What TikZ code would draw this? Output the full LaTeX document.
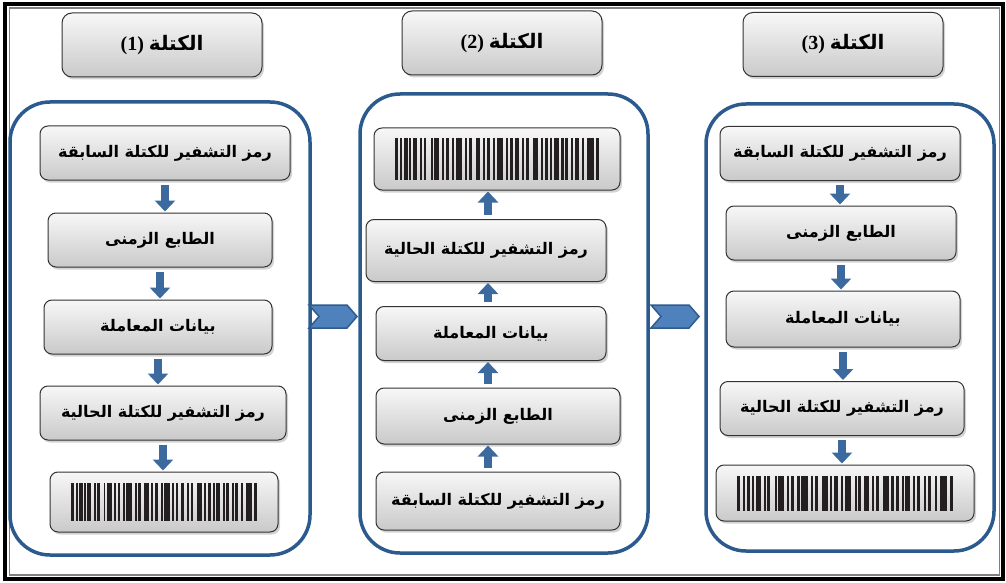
\documentclass[tikz,border=0pt]{standalone}
\usepackage{fontspec}
\setmainfont{Liberation Serif}
\newfontfamily\arabicfont[Script=Arabic]{DejaVu Sans}
\TeXXeTstate=1
\usetikzlibrary{arrows.meta,shadows}

\definecolor{frameblue}{HTML}{2B5A8E}
\definecolor{arrowblue}{HTML}{3C6A9E}
\definecolor{chevfill}{HTML}{4F81BD}
\definecolor{chevline}{HTML}{2E5A8C}
\definecolor{barcol}{HTML}{231F20}

\tikzset{
  blockframe/.style={draw=frameblue, line width=3.5pt, rounded corners=40pt, inner sep=0pt},
  grayshade/.style={draw=black!80, line width=1pt, top color=gray!6, bottom color=gray!42,
    drop shadow={shadow xshift=2pt, shadow yshift=-2.5pt, opacity=0.35}},
  headbox/.style={grayshade, rounded corners=10pt, minimum width=200pt, minimum height=64pt,
    inner sep=0pt, font=\bfseries\fontsize{20}{22}\selectfont},
  stepbox/.style={grayshade, rounded corners=8pt, minimum height=54pt, inner sep=0pt,
    font=\arabicfont\bfseries\fontsize{16}{18}\selectfont},
  codebox/.style={grayshade, rounded corners=8pt, inner sep=0pt},
  flowarrow/.style={draw=arrowblue, line width=8pt, -{Triangle[width=20pt,length=11pt]},
    shorten <=4pt, shorten >=1pt},
  chevron/.style={fill=chevfill, draw=chevline, line width=1.5pt, line join=miter}
}

% bars of a code box: node, bar span, bar height
\newcommand\barcodebars[3]{%
  \begin{scope}[shift={(#1.center)}, xscale=#2/100]
    \foreach \bx/\bw in {0/1.6, 2.6/1, 4.4/1.8, 7/1, 8.8/2.2, 12.4/1, 14/1.4, 17.5/1,
        19.2/2.6, 23/1, 25/1.4, 28/1, 29.8/3.2, 34.4/1, 36.2/1.4, 39.5/2.4, 43/1,
        45/1.6, 48.2/1, 50/3, 54.4/1, 56.2/1.4, 59/2, 62.4/1, 64.4/1.4, 67.6/2.6,
        71.5/1, 73.4/1.6, 76.2/1, 78/2.2, 81.6/1, 83.4/1.4, 86.4/1, 88.4/1.6,
        91.5/1, 94/3.4, 98.6/1.4}
      \fill[barcol] (\bx-50,-#3/2) rectangle ++(\bw,#3);
  \end{scope}}

\begin{document}
\begin{tikzpicture}[x=1pt,y=-1pt]
  \useasboundingbox (0,0) rectangle (1006,583);
  % outer frame
  \draw[line width=4pt] (5,4) rectangle (1003,579);
  \draw[gray, line width=1.2pt] (9.5,8) rectangle (999.5,575);

  % blocks
  \node[blockframe, minimum width=300pt, minimum height=453pt] (blockA) at (160,328.5) {};
  \node[blockframe, minimum width=288pt, minimum height=459pt] (blockB) at (504,323.5) {};
  \node[blockframe, minimum width=288pt, minimum height=447pt] (blockC) at (850,327.5) {};

  % headers
  \node[headbox] (headA) at (162,45) {(1)~{\arabicfont\beginR الكتلة\endR}};
  \node[headbox] (headB) at (502,43) {(2)~{\arabicfont\beginR الكتلة\endR}};
  \node[headbox] (headC) at (843,44.5) {(3)~{\arabicfont\beginR الكتلة\endR}};

  % block 1
  \node[stepbox, minimum width=250pt] (prevA) at (165,153) {\beginR رمز التشفير للكتلة السابقة\endR};
  \node[stepbox, minimum width=224pt] (timeA) at (160,240) {\beginR الطابع الزمنى\endR};
  \node[stepbox, minimum width=228pt] (dataA) at (158,327) {\beginR بيانات المعاملة\endR};
  \node[stepbox, minimum width=246pt] (currA) at (163,413) {\beginR رمز التشفير للكتلة الحالية\endR};
  \node[codebox, minimum width=228pt, minimum height=60pt] (codeA) at (164,502) {};
  \barcodebars{codeA}{186}{38}

  % block 2
  \node[codebox, minimum width=246pt, minimum height=62pt] (codeB) at (497,159) {};
  \barcodebars{codeB}{204}{41}
  \node[stepbox, minimum width=240pt, minimum height=62pt] (currB) at (486,250.5) {\beginR رمز التشفير للكتلة الحالية\endR};
  \node[stepbox, minimum width=230pt] (dataB) at (491,333.5) {\beginR بيانات المعاملة\endR};
  \node[stepbox, minimum width=244pt, minimum height=56pt] (timeB) at (498,416) {\beginR الطابع الزمنى\endR};
  \node[stepbox, minimum width=244pt, minimum height=58pt] (prevB) at (498,501) {\beginR رمز التشفير للكتلة السابقة\endR};

  % block 3
  \node[stepbox, minimum width=240pt] (prevC) at (840,153.5) {\beginR رمز التشفير للكتلة السابقة\endR};
  \node[stepbox, minimum width=230pt] (timeC) at (841,233) {\beginR الطابع الزمنى\endR};
  \node[stepbox, minimum width=234pt, minimum height=56pt] (dataC) at (843,319) {\beginR بيانات المعاملة\endR};
  \node[stepbox, minimum width=244pt] (currC) at (842,408.5) {\beginR رمز التشفير للكتلة الحالية\endR};
  \node[codebox, minimum width=258pt, minimum height=56pt] (codeC) at (845,493) {};
  \barcodebars{codeC}{216}{35}

  % arrows
  \foreach \from/\to in {prevA/timeA, timeA/dataA, dataA/currA, currA/codeA,
      prevC/timeC, timeC/dataC, dataC/currC, currC/codeC}
    \draw[flowarrow] (\from.south) -- (\from.south |- \to.north);
  \foreach \from/\to in {prevB/timeB, timeB/dataB, dataB/currB, currB/codeB}
    \draw[flowarrow] (\from.north -| 488,0) -- (488,0 |- \to.south);

  % chevrons between blocks
  \draw[chevron] (309,305) -- (347,305) -- (357,316.5) -- (347,328) -- (309,328) -- (319,316.5) -- cycle;
  \draw[chevron] (651,305) -- (689,305) -- (699,316.5) -- (689,328) -- (651,328) -- (661,316.5) -- cycle;
\end{tikzpicture}
\end{document}
